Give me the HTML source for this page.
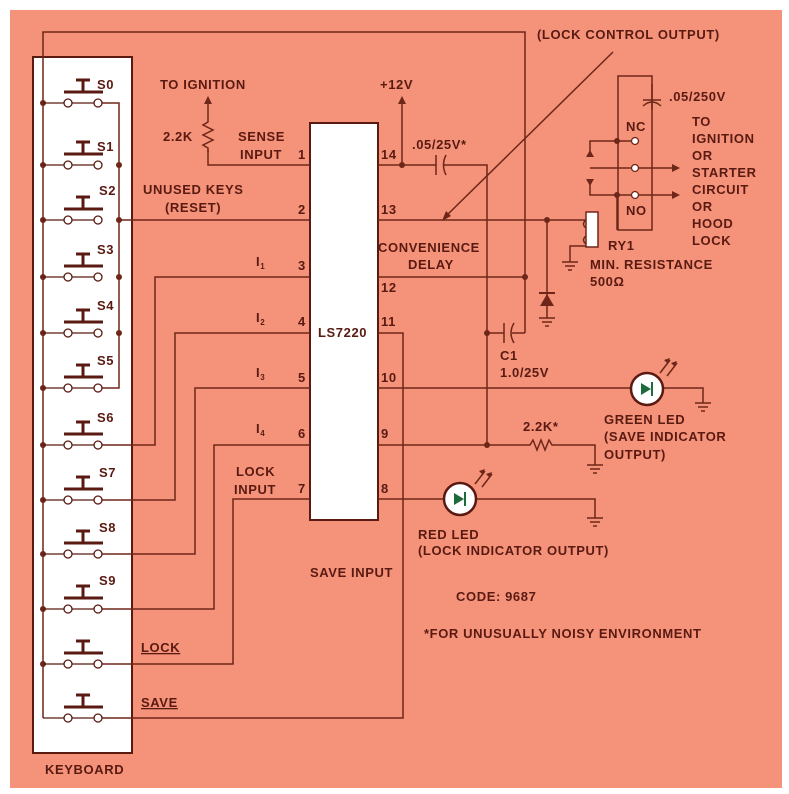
<!DOCTYPE html>
<html><head><meta charset="utf-8"><style>
html,body{margin:0;padding:0;background:#fff;}
svg{display:block;}
text{font-family:"Liberation Sans",sans-serif;font-weight:bold;font-size:13px;letter-spacing:0.6px;fill:#5a1a12;}
</style></head><body>
<svg width="789" height="794" viewBox="0 0 789 794">
<rect x="0" y="0" width="789" height="794" fill="#fff"/>
<rect x="10" y="10" width="772" height="778" fill="#f4937a"/>
<g stroke="#6e2618" stroke-width="1.5" fill="none">
<rect x="33" y="57" width="99" height="696" fill="#fff" stroke="#5a1a12" stroke-width="2"/>
<path d="M43 718 V32 H525 V333"/>
<path d="M102 103 H119 V388 H102"/>
<path d="M119 220 H310"/>
<rect x="310" y="123" width="68" height="397" fill="#fff" stroke="#5a1a12" stroke-width="2"/>
<path d="M310 165 H208 V150"/>
<path d="M208 118 l0 4 l-5 3 l10 5 l-10 5 l10 5 l-10 5 l5 3 l0 4"/>
<path d="M208 118 V100"/>
<path d="M310 277 H155 V445 H102"/>
<path d="M310 333 H175 V500 H102"/>
<path d="M310 388 H195 V554 H102"/>
<path d="M310 445 H214 V609 H102"/>
<path d="M310 499 H233 V664 H102"/>
<path d="M102 718 H403 V333 H378"/>
<path d="M378 165 H436 M444 165 H487 V445"/>
<path d="M436 155 V175 M446 155 Q441 165 446 175"/>
<path d="M402 165 V100"/>
<path d="M378 220 H586"/>
<path d="M378 277 H525"/>
<path d="M487 333 H504 M512 333 H525"/>
<path d="M504 323 V343 M514 323 Q508 333 514 343"/>
<path d="M547 220 V318"/>
<path d="M378 388 H630 M664 388 H703 V403"/>
<path d="M378 445 H530 l3 -5 l4 10 l4 -10 l4 10 l4 -10 l3 5 H595 V465"/>
<path d="M378 499 H443 M477 499 H595 V518"/>
<path d="M613 52 L444 218"/>
<rect x="586" y="212" width="12" height="35" fill="#fff"/>
<path d="M586 220 q-5 4 0 8 M586 236 q-5 4 0 8"/>
<path d="M586 246 H570 V262"/>
<rect x="618" y="76" width="34" height="154"/>
<path d="M617 141 H631 M617 141 H590 V154 M590 168 L631 168 M639 168 H676 M617 195 H631 M639 195 H676 M617 195 H590 V182 M617 195 V230"/>
<path d="M652 84 V110"/>
<path d="M643 100 H661 M643 106 Q652 98 661 106"/>
<path d="M660 373 L670 360 M667 376 L677 363"/>
<path d="M475 484 L485 471 M482 487 L492 474"/>
</g>
<g fill="#6e2618">
<polygon points="208,96 204,104 212,104"/>
<polygon points="402,96 398,104 406,104"/>
<polygon points="442,221 446,211 451,216"/>
<polygon points="680,168 672,164 672,172"/>
<polygon points="680,195 672,191 672,199"/>
<polygon points="590,150 586,157 594,157"/>
<polygon points="590,186 586,179 594,179"/>
<polygon points="670,358 664,360 668,364"/>
<polygon points="677,361 671,363 675,367"/>
<polygon points="485,469 479,471 483,475"/>
<polygon points="492,472 486,474 490,478"/>
<polygon points="540,306 554,306 547,294"/>
<rect x="539" y="292" width="16" height="2"/>
<circle cx="43" cy="103" r="3"/><circle cx="43" cy="165" r="3"/><circle cx="43" cy="220" r="3"/>
<circle cx="43" cy="277" r="3"/><circle cx="43" cy="333" r="3"/><circle cx="43" cy="388" r="3"/>
<circle cx="43" cy="445" r="3"/><circle cx="43" cy="500" r="3"/><circle cx="43" cy="554" r="3"/>
<circle cx="43" cy="609" r="3"/><circle cx="43" cy="664" r="3"/>
<circle cx="119" cy="165" r="3"/><circle cx="119" cy="220" r="3"/><circle cx="119" cy="277" r="3"/><circle cx="119" cy="333" r="3"/>
<circle cx="402" cy="165" r="3"/><circle cx="525" cy="277" r="3"/><circle cx="487" cy="333" r="3"/>
<circle cx="547" cy="220" r="3"/><circle cx="487" cy="445" r="3"/>
<circle cx="617" cy="141" r="3"/><circle cx="617" cy="195" r="3"/>
</g>
<g stroke="#6e2618" stroke-width="1.5">
<path d="M562 262 H578 M565 266 H575 M568 270 H572"/>
<path d="M539 318 H555 M542 322 H552 M545 326 H549"/>
<path d="M695 403 H711 M698 407 H708 M701 411 H705"/>
<path d="M587 465 H603 M590 469 H600 M593 473 H597"/>
<path d="M587 518 H603 M590 522 H600 M593 526 H597"/>
</g>
<circle cx="647" cy="389" r="16" fill="#fff" stroke="#5a1a12" stroke-width="2.5"/>
<polygon points="641,383 641,395 651,389" fill="#1d6b3a"/><rect x="651" y="382" width="2" height="14" fill="#1d6b3a"/>
<circle cx="460" cy="499" r="16" fill="#fff" stroke="#5a1a12" stroke-width="2.5"/>
<polygon points="454,493 454,505 464,499" fill="#1d6b3a"/><rect x="464" y="492" width="2" height="14" fill="#1d6b3a"/>
<g fill="#fff" stroke="#6e2618" stroke-width="1.3">
<circle cx="635" cy="141" r="3.5"/><circle cx="635" cy="168" r="3.5"/><circle cx="635" cy="195" r="3.5"/>
</g>
<g stroke="#5a1a12" stroke-width="1.3" fill="#fff">
<g><path d="M43 103 H64 M72 103 H94" fill="none"/><circle cx="68" cy="103" r="4"/><circle cx="98" cy="103" r="4"/><path d="M64 92 H103 M83 92 V80 M76 80 H90" stroke-width="3" fill="none"/></g>
<g transform="translate(0,62)"><path d="M43 103 H64 M72 103 H94" fill="none"/><circle cx="68" cy="103" r="4"/><circle cx="98" cy="103" r="4"/><path d="M64 92 H103 M83 92 V80 M76 80 H90" stroke-width="3" fill="none"/></g>
<g transform="translate(0,117)"><path d="M43 103 H64 M72 103 H94" fill="none"/><circle cx="68" cy="103" r="4"/><circle cx="98" cy="103" r="4"/><path d="M64 92 H103 M83 92 V80 M76 80 H90" stroke-width="3" fill="none"/></g>
<g transform="translate(0,174)"><path d="M43 103 H64 M72 103 H94" fill="none"/><circle cx="68" cy="103" r="4"/><circle cx="98" cy="103" r="4"/><path d="M64 92 H103 M83 92 V80 M76 80 H90" stroke-width="3" fill="none"/></g>
<g transform="translate(0,230)"><path d="M43 103 H64 M72 103 H94" fill="none"/><circle cx="68" cy="103" r="4"/><circle cx="98" cy="103" r="4"/><path d="M64 92 H103 M83 92 V80 M76 80 H90" stroke-width="3" fill="none"/></g>
<g transform="translate(0,285)"><path d="M43 103 H64 M72 103 H94" fill="none"/><circle cx="68" cy="103" r="4"/><circle cx="98" cy="103" r="4"/><path d="M64 92 H103 M83 92 V80 M76 80 H90" stroke-width="3" fill="none"/></g>
<g transform="translate(0,342)"><path d="M43 103 H64 M72 103 H94" fill="none"/><circle cx="68" cy="103" r="4"/><circle cx="98" cy="103" r="4"/><path d="M64 92 H103 M83 92 V80 M76 80 H90" stroke-width="3" fill="none"/></g>
<g transform="translate(0,397)"><path d="M43 103 H64 M72 103 H94" fill="none"/><circle cx="68" cy="103" r="4"/><circle cx="98" cy="103" r="4"/><path d="M64 92 H103 M83 92 V80 M76 80 H90" stroke-width="3" fill="none"/></g>
<g transform="translate(0,451)"><path d="M43 103 H64 M72 103 H94" fill="none"/><circle cx="68" cy="103" r="4"/><circle cx="98" cy="103" r="4"/><path d="M64 92 H103 M83 92 V80 M76 80 H90" stroke-width="3" fill="none"/></g>
<g transform="translate(0,506)"><path d="M43 103 H64 M72 103 H94" fill="none"/><circle cx="68" cy="103" r="4"/><circle cx="98" cy="103" r="4"/><path d="M64 92 H103 M83 92 V80 M76 80 H90" stroke-width="3" fill="none"/></g>
<g transform="translate(0,561)"><path d="M43 103 H64 M72 103 H94" fill="none"/><circle cx="68" cy="103" r="4"/><circle cx="98" cy="103" r="4"/><path d="M64 92 H103 M83 92 V80 M76 80 H90" stroke-width="3" fill="none"/></g>
<g transform="translate(0,615)"><path d="M43 103 H64 M72 103 H94" fill="none"/><circle cx="68" cy="103" r="4"/><circle cx="98" cy="103" r="4"/><path d="M64 92 H103 M83 92 V80 M76 80 H90" stroke-width="3" fill="none"/></g>
</g>
<text x="97" y="89">S0</text><text x="97" y="151">S1</text><text x="99" y="195">S2</text>
<text x="97" y="254">S3</text><text x="97" y="310">S4</text><text x="97" y="365">S5</text>
<text x="97" y="422">S6</text><text x="99" y="477">S7</text><text x="99" y="532">S8</text>
<text x="99" y="585">S9</text>
<text x="141" y="652" text-decoration="underline">LOCK</text>
<text x="141" y="707" text-decoration="underline">SAVE</text>
<text x="45" y="774">KEYBOARD</text>
<text x="160" y="89">TO IGNITION</text>
<text x="163" y="141">2.2K</text>
<text x="238" y="141">SENSE</text><text x="240" y="159">INPUT</text>
<text x="143" y="194">UNUSED KEYS</text><text x="165" y="212">(RESET)</text>
<text x="298" y="159">1</text><text x="298" y="214">2</text><text x="298" y="270">3</text>
<text x="298" y="326">4</text><text x="298" y="382">5</text><text x="298" y="438">6</text><text x="298" y="493">7</text>
<text x="381" y="159">14</text><text x="381" y="214">13</text><text x="381" y="292">12</text>
<text x="381" y="326">11</text><text x="381" y="382">10</text><text x="381" y="438">9</text><text x="381" y="493">8</text>
<text x="256" y="266">I<tspan font-size="8" dy="3">1</tspan></text>
<text x="256" y="322">I<tspan font-size="8" dy="3">2</tspan></text>
<text x="256" y="377">I<tspan font-size="8" dy="3">3</tspan></text>
<text x="256" y="433">I<tspan font-size="8" dy="3">4</tspan></text>
<text x="236" y="476">LOCK</text><text x="234" y="494">INPUT</text>
<text x="318" y="337">LS7220</text>
<text x="380" y="89">+12V</text>
<text x="412" y="149">.05/25V*</text>
<text x="537" y="39">(LOCK CONTROL OUTPUT)</text>
<text x="378" y="252">CONVENIENCE</text><text x="408" y="269">DELAY</text>
<text x="500" y="360">C1</text><text x="500" y="377">1.0/25V</text>
<text x="608" y="250">RY1</text>
<text x="590" y="269">MIN. RESISTANCE</text><text x="590" y="286">500Ω</text>
<text x="669" y="101">.05/250V</text>
<text x="626" y="131">NC</text><text x="626" y="215">NO</text>
<text x="692" y="126">TO</text><text x="692" y="143">IGNITION</text><text x="692" y="160">OR</text>
<text x="692" y="177">STARTER</text><text x="692" y="194">CIRCUIT</text><text x="692" y="211">OR</text>
<text x="692" y="228">HOOD</text><text x="692" y="245">LOCK</text>
<text x="604" y="424">GREEN LED</text><text x="604" y="441">(SAVE INDICATOR</text><text x="604" y="459">OUTPUT)</text>
<text x="523" y="431">2.2K*</text>
<text x="418" y="539">RED LED</text><text x="418" y="555">(LOCK INDICATOR OUTPUT)</text>
<text x="310" y="577">SAVE INPUT</text>
<text x="456" y="601">CODE: 9687</text>
<text x="424" y="638">*FOR UNUSUALLY NOISY ENVIRONMENT</text>
</svg>
</body></html>
